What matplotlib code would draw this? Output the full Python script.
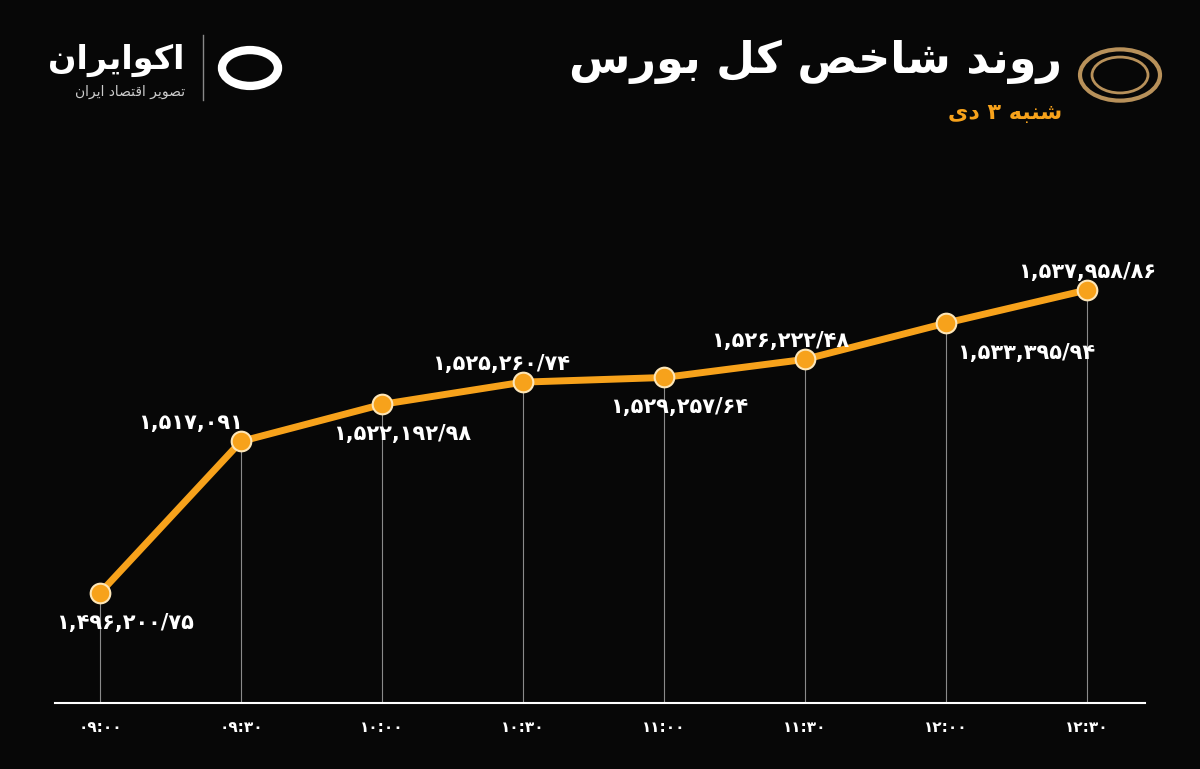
import matplotlib
matplotlib.use("Agg")
import matplotlib.pyplot as plt
from matplotlib.patches import Circle

times = ["09:00", "09:30", "10:00", "10:30", "11:00", "11:30", "12:00", "12:30"]
values = [1496200.75, 1517091, 1522192.98, 1525260.74, 1525900, 1528400, 1533395.94, 1537958.86]
labels = ["1,496,200/75", "1,517,091", "1,522,192/98", "1,525,260/74",
          "1,529,257/64", "1,526,222/48", "1,533,395/94", "1,537,958/86"]
title = "روند شاخص کل بورس"
subtitle = "شنبه ۳ دی"
brand = "اکوایران"
brand_sub = "تصویر اقتصاد ایران"

FORMS = {
    'ا': (0xFE8D, 0xFE8E, None, None), 'ب': (0xFE8F, 0xFE90, 0xFE91, 0xFE92),
    'ت': (0xFE95, 0xFE96, 0xFE97, 0xFE98), 'خ': (0xFEA5, 0xFEA6, 0xFEA7, 0xFEA8),
    'د': (0xFEA9, 0xFEAA, None, None), 'ر': (0xFEAD, 0xFEAE, None, None),
    'و': (0xFEED, 0xFEEE, None, None), 'س': (0xFEB1, 0xFEB2, 0xFEB3, 0xFEB4),
    'ش': (0xFEB5, 0xFEB6, 0xFEB7, 0xFEB8), 'ص': (0xFEB9, 0xFEBA, 0xFEBB, 0xFEBC),
    'ق': (0xFED5, 0xFED6, 0xFED7, 0xFED8), 'ل': (0xFEDD, 0xFEDE, 0xFEDF, 0xFEE0),
    'ن': (0xFEE5, 0xFEE6, 0xFEE7, 0xFEE8), 'ه': (0xFEE9, 0xFEEA, 0xFEEB, 0xFEEC),
    'ک': (0xFB8E, 0xFB8F, 0xFB90, 0xFB91), 'ی': (0xFBFC, 0xFBFD, 0xFBFE, 0xFBFF),
}

def shape(s):
    out = []
    for i, c in enumerate(s):
        if c not in FORMS:
            out.append(c); continue
        f = FORMS[c]
        prev = s[i-1] if i > 0 else ''
        nxt = s[i+1] if i + 1 < len(s) else ''
        jp = prev in FORMS and FORMS[prev][2] is not None
        jn = nxt in FORMS and f[2] is not None
        if jp and jn: code = f[3]
        elif jp: code = f[1]
        elif jn: code = f[2]
        else: code = f[0]
        out.append(chr(code))
    return ''.join(reversed(out))

def fa(s):
    return s.translate(str.maketrans("0123456789", "۰۱۲۳۴۵۶۷۸۹"))

BG = "#070707"
ORANGE = "#f7a21b"
fig = plt.figure(figsize=(12, 7.69), dpi=100, facecolor=BG)
ax = fig.add_axes([55/1200, 66/769, 1090/1200, 453/769], facecolor=BG)
x = list(range(len(times)))
ymin, ymax = 1481042, 1543470
ax.set_xlim(-45/141, 7 + 58/141)
ax.set_ylim(ymin, ymax)
for xi, v in zip(x, values):
    ax.plot([xi, xi], [ymin, v], color="#8a8a8a", lw=0.8, zorder=1)
ax.plot(x, values, color=ORANGE, lw=5, zorder=2, solid_capstyle="round")
ax.scatter(x, values, s=200, color=ORANGE, edgecolor="#fde6b8", linewidth=1.5, zorder=3)

offs = [(25, -30), (-50, 18), (20, -30), (-22, 18), (15, -30), (-25, 18), (80, -30), (0, 18)]
for xi, v, lab, (dx, dy) in zip(x, values, labels, offs):
    ax.annotate(fa(lab), (xi, v), xytext=(dx*0.72, dy*0.72), textcoords="offset points",
                ha="center", va="center", color="white", fontsize=15, fontweight="bold",
                family="DejaVu Sans")

for s in ["top", "right", "left"]:
    ax.spines[s].set_visible(False)
ax.spines["bottom"].set_color("white")
ax.spines["bottom"].set_linewidth(1.5)
ax.set_yticks([])
ax.set_xticks(x)
ax.set_xticklabels([fa(t) for t in times], color="white", fontsize=11, fontweight="bold")
ax.tick_params(axis="x", length=0, pad=12)

fig.text(1062/1200, 1 - 62/769, shape(title), ha="right", va="center", color="white",
         fontsize=32, fontweight="bold", family="DejaVu Sans")
fig.text(1062/1200, 1 - 113/769, shape(subtitle), ha="right", va="center", color=ORANGE,
         fontsize=16, fontweight="bold", family="DejaVu Sans")
fig.text(185/1200, 1 - 60/769, shape(brand), ha="right", va="center", color="white",
         fontsize=24, fontweight="bold", family="DejaVu Sans")
fig.text(185/1200, 1 - 92/769, shape(brand_sub), ha="right", va="center", color="#cccccc",
         fontsize=10, family="DejaVu Sans")
fig.add_artist(plt.Line2D([203/1200, 203/1200], [1-100/769, 1-35/769], color="#888888", lw=1))
# emblems
fig.add_artist(Circle((1120/1200, 1-75/769), 40/1200, transform=fig.transFigure,
                      facecolor="none", edgecolor="#b8915a", lw=3))
fig.add_artist(Circle((1120/1200, 1-75/769), 28/1200, transform=fig.transFigure,
                      facecolor="none", edgecolor="#b8915a", lw=2))
fig.add_artist(Circle((250/1200, 1-68/769), 28/1200, transform=fig.transFigure,
                      facecolor="none", edgecolor="white", lw=6))
fig.savefig("out.png", dpi=100, facecolor=BG)
